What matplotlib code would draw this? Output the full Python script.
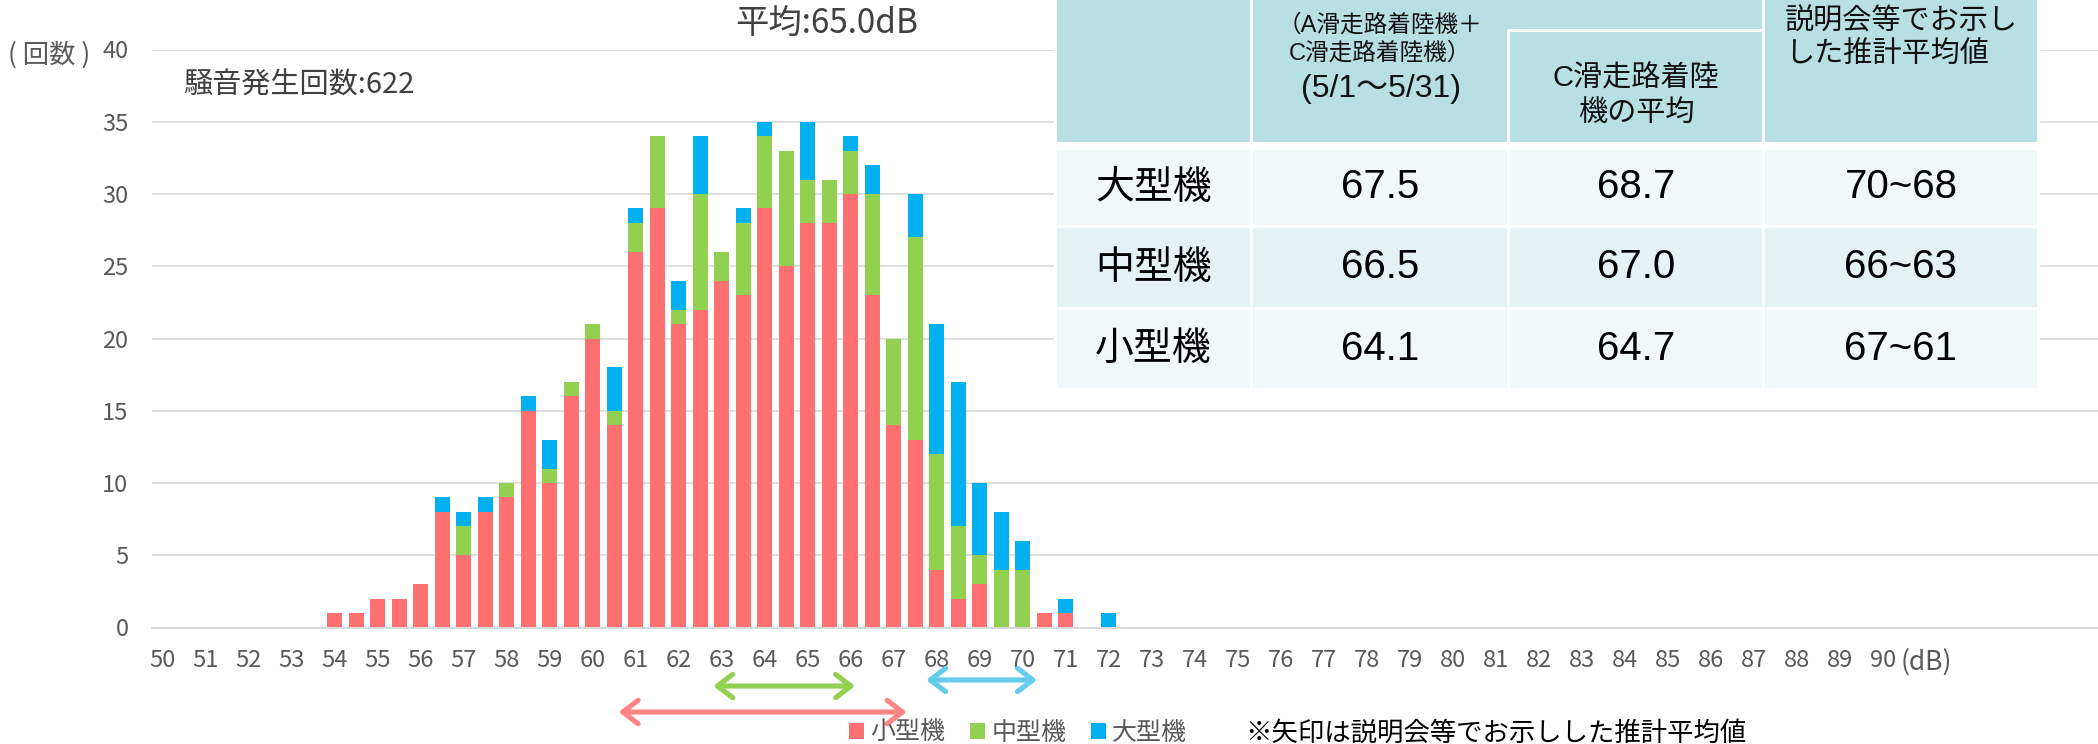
import numpy as np
import matplotlib
matplotlib.use('Agg')
import matplotlib.pyplot as plt
from matplotlib.patches import Rectangle, FancyArrowPatch, ArrowStyle

plt.rcParams['font.family'] = ['Noto Sans CJK JP', 'DejaVu Sans']

W, H = 2098, 744

# 騒音レベル (0.5dB刻み)
db_bins = [54.0, 54.5, 55.0, 55.5, 56.0, 56.5, 57.0, 57.5, 58.0, 58.5,
           59.0, 59.5, 60.0, 60.5, 61.0, 61.5, 62.0, 62.5, 63.0, 63.5,
           64.0, 64.5, 65.0, 65.5, 66.0, 66.5, 67.0, 67.5, 68.0, 68.5,
           69.0, 69.5, 70.0, 70.5, 71.0, 71.5, 72.0]
# 回数
small = [1, 1, 2, 2, 3, 8, 5, 8, 9, 15,
         10, 16, 20, 14, 26, 29, 21, 22, 24, 23,
         29, 25, 28, 28, 30, 23, 14, 13, 4, 2,
         3, 0, 0, 1, 1, 0, 0]
medium = [0, 0, 0, 0, 0, 0, 2, 0, 1, 0,
          1, 1, 1, 1, 2, 5, 1, 8, 2, 5,
          5, 8, 3, 3, 3, 7, 6, 14, 8, 5,
          2, 4, 4, 0, 0, 0, 0]
large = [0, 0, 0, 0, 0, 1, 1, 1, 0, 1,
         2, 0, 0, 3, 1, 0, 2, 4, 0, 1,
         1, 0, 4, 0, 1, 2, 0, 3, 9, 10,
         5, 4, 2, 0, 1, 0, 1]

series_names = ['小型機', '中型機', '大型機']
series_colors = ['#FF7171', '#92D050', '#00B0F0']

# 説明会等でお示しした推計平均値（矢印）
arrow_ranges = [(60.6, 67.3), (62.8, 66.1), (67.75, 70.33)]
arrow_levels = [-5.85, -4.05, -3.63]
arrow_colors = ['#FF8585', '#92D050', '#66CCEE']

# 表
table_types = ['大型機', '中型機', '小型機']
table_all = ['67.5', '66.5', '64.1']
table_c = ['68.7', '67.0', '64.7']
table_est = ['70~68', '66~63', '67~61']

narrow = ['Liberation Sans Narrow', 'Noto Sans CJK JP']
arial = ['Liberation Sans', 'Noto Sans CJK JP']

fig = plt.figure(figsize=(W / 100, H / 100), dpi=100)
ax = fig.add_axes([152 / W, 1 - 627.5 / H, (W - 152) / W, (627.5 - 49.5) / H])

bottom = np.zeros(len(db_bins))
for vals, name, c in zip([small, medium, large], series_names, series_colors):
    ax.bar(db_bins, vals, width=0.35, bottom=bottom, color=c, label=name,
           linewidth=0, zorder=2)
    bottom += np.array(vals)

ax.set_xlim(49.75, 95.0)
ax.set_ylim(0, 40)
ax.set_xticks(range(50, 91))
ax.set_yticks(range(0, 41, 5))
ax.grid(axis='y', color='#D9D9D9', lw=1.2, zorder=0)
ax.set_axisbelow(True)
for s in ['top', 'right', 'left']:
    ax.spines[s].set_visible(False)
ax.spines['bottom'].set_color('#D9D9D9')
ax.spines['bottom'].set_linewidth(1.5)
ax.tick_params(length=0, labelsize=17, labelcolor='#595959')
ax.tick_params(axis='x', pad=15.5)
ax.tick_params(axis='y', pad=17)
for lab in ax.get_xticklabels() + ax.get_yticklabels():
    lab.set_family(narrow)

# 矢印
for (x0, x1), yv, c in zip(arrow_ranges, arrow_levels, arrow_colors):
    arr = FancyArrowPatch((x0, yv), (x1, yv),
                          arrowstyle=ArrowStyle('<->', head_length=0.55, head_width=0.42),
                          mutation_scale=20, lw=3.7, color=c, clip_on=False,
                          shrinkA=0, shrinkB=0, capstyle='round', joinstyle='round')
    ax.add_patch(arr)

ax.legend(loc='center', bbox_to_anchor=(1018 / W, 1 - 733 / H), bbox_transform=fig.transFigure,
          ncol=3, frameon=False, fontsize=18, handlelength=0.6, handleheight=0.6,
          handletextpad=0.25, columnspacing=1.0, labelcolor='#595959', borderpad=0)

# テキスト・表 (ピクセル座標)
ov = fig.add_axes([0, 0, 1, 1])
ov.set_xlim(0, W)
ov.set_ylim(H, 0)
ov.axis('off')
ov.set_zorder(5)

ov.text(827, 23, '平均:65.0dB', fontsize=24, color='#404040', ha='center', va='center')
ov.text(183, 86, '騒音発生回数:622', fontsize=21, color='#404040', ha='left', va='center')
ov.text(8, 55, '( 回数 )', fontsize=19, color='#595959', ha='left', va='center')
ov.text(1926, 662, '(dB)', fontsize=19, family=narrow, color='#595959', ha='center', va='center')
ov.text(1245, 733, '※矢印は説明会等でお示しした推計平均値', fontsize=19, color='black',
        ha='left', va='center')

head_c = '#B8DFE3'
row_cs = ['#F1F8FA', '#E5F2F4', '#F1F8FA']
cols = [(1057, 1250), (1253, 1507), (1510, 1762), (1765, 2037)]
rows = [(150, 225), (228, 307), (310, 388)]

ov.add_patch(Rectangle((1054, 0), 986, 391, color='white', lw=0))
ov.add_patch(Rectangle((1057, 0), 193, 142, color=head_c, lw=0))
ov.add_patch(Rectangle((1253, 0), 509, 142, color=head_c, lw=0))
ov.add_patch(Rectangle((1765, 0), 272, 142, color=head_c, lw=0))
ov.add_patch(Rectangle((1507, 29), 3, 113, color='white', lw=0))
ov.add_patch(Rectangle((1507, 29), 255, 3, color='white', lw=0))

ov.text(1380, 25, '（A滑走路着陸機＋', fontsize=17, family=arial, ha='center', va='center', color='#111111')
ov.text(1380, 53, 'C滑走路着陸機）', fontsize=17, family=arial, ha='center', va='center', color='#111111')
ov.text(1381, 89, '(5/1〜5/31)', fontsize=23, family=arial, ha='center', va='center', color='#111111')
ov.text(1636, 79, 'C滑走路着陸', fontsize=21, family=arial, ha='center', va='center', color='#111111')
ov.text(1636, 113, '機の平均', fontsize=21, family=arial, ha='center', va='center', color='#111111')
ov.text(1785, 22, '説明会等でお示し', fontsize=21, family=arial, ha='left', va='center', color='#111111')
ov.text(1785, 55, 'した推計平均値', fontsize=21, family=arial, ha='left', va='center', color='#111111')

for i, (y0, y1) in enumerate(rows):
    for (x0, x1) in cols:
        ov.add_patch(Rectangle((x0, y0), x1 - x0, y1 - y0, color=row_cs[i], lw=0))
    yc = (y0 + y1) / 2
    cells = [table_types[i], table_all[i], table_c[i], table_est[i]]
    for j, txt in enumerate(cells):
        xc = (cols[j][0] + cols[j][1]) / 2
        if j == 0:
            ov.text(xc, yc, txt, fontsize=28, ha='center', va='center', color='black')
        else:
            ov.text(xc, yc, txt, fontsize=29, family=arial, ha='center', va='center', color='black')

fig.savefig('out.png', dpi=100)
